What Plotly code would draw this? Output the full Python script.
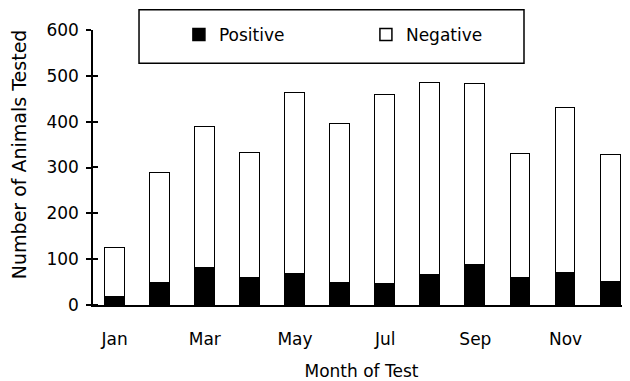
import plotly.graph_objects as go

months = ["Jan", "Feb", "Mar", "Apr", "May", "Jun", "Jul", "Aug", "Sep", "Oct", "Nov", "Dec"]
positive = [18, 48, 80, 59, 67, 48, 45, 66, 88, 59, 70, 51]
negative = [107, 239, 309, 273, 396, 346, 414, 419, 394, 271, 360, 276]
y_ticks = [0, 100, 200, 300, 400, 500, 600]
x_tick_labels = ["Jan", "Mar", "May", "Jul", "Sep", "Nov"]

FONT = "DejaVu Sans"

fig = go.Figure()
fig.add_trace(go.Bar(
    x=months, y=positive, name="Positive", width=0.44,
    marker=dict(color="black", line=dict(color="black", width=1.5)),
))
fig.add_trace(go.Bar(
    x=months, y=negative, name="Negative", width=0.44,
    marker=dict(color="white", line=dict(color="black", width=1.5)),
))

# the page body has an 8px margin, so the figure is sized/offset to fit the 630x381 window
fig.update_layout(
    barmode="stack",
    width=622, height=373,
    margin=dict(l=85, r=0, t=22, b=70),
    paper_bgcolor="white", plot_bgcolor="white",
    font=dict(family=FONT, size=17, color="black"),
    showlegend=True,
    legend=dict(
        orientation="h", x=0.160, xanchor="left", y=0.982, yanchor="middle",
        entrywidth=142, entrywidthmode="pixels",
        bgcolor="rgba(0,0,0,0)", borderwidth=0,
        font=dict(family=FONT, size=17),
        traceorder="normal",
    ),
    shapes=[dict(
        type="rect", xref="paper", yref="paper",
        x0=0.0857, x1=0.8026, y0=0.879, y1=1.0733,
        line=dict(color="black", width=1.5), fillcolor="white", layer="below",
    )],
    annotations=[dict(
        text="Number of Animals Tested", xref="paper", yref="paper",
        x=-0.138, y=0.548, xanchor="center", yanchor="middle",
        textangle=-90, showarrow=False, font=dict(family=FONT, size=19),
    )],
    bargap=0,
)

fig.update_xaxes(
    type="category", categoryorder="array", categoryarray=months,
    range=[-0.48, 11.43],
    tickmode="array", tickvals=x_tick_labels, ticktext=x_tick_labels,
    ticks="", showline=True, linecolor="black", linewidth=1.5,
    showgrid=False, zeroline=False,
    ticklabelstandoff=18,
    tickfont=dict(family=FONT, size=17),
    title=dict(text="Month of Test", font=dict(family=FONT, size=17), standoff=20),
)
fig.update_yaxes(
    range=[0, 600], tickmode="array", tickvals=y_ticks,
    ticks="outside", ticklen=5, tickwidth=1.5, tickcolor="black",
    minor=dict(tickmode="array", tickvals=[v + 0.3 for v in y_ticks], ticks="inside",
               ticklen=5, tickwidth=1.5, tickcolor="black"),
    showline=True, linecolor="black", linewidth=1.5,
    showgrid=False, zeroline=False,
    ticklabelstandoff=4,
    tickfont=dict(family=FONT, size=17),
)

fig.write_html("out.html")
